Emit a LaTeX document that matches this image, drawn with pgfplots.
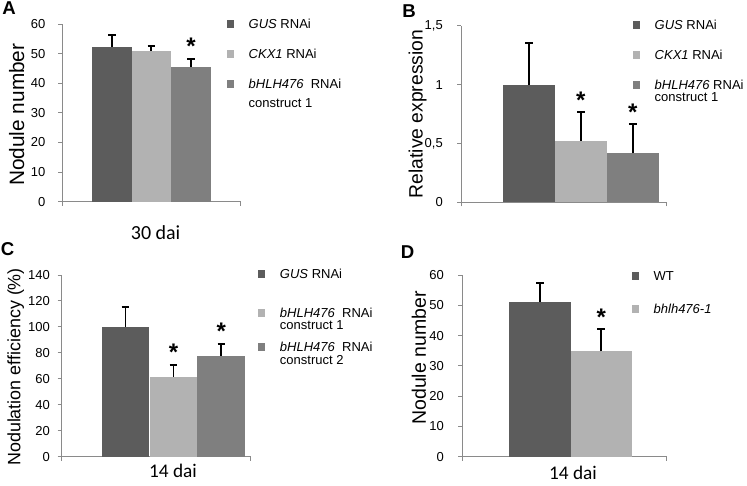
\documentclass[border=0pt]{standalone}
\usepackage{fontspec}
\setmainfont{Liberation Sans}
\newfontfamily\calibri{Carlito}
\usepackage{pgfplots}
\pgfplotsset{compat=1.18}
\definecolor{dk}{HTML}{5C5C5C}
\definecolor{lt}{HTML}{B2B2B2}
\definecolor{md}{HTML}{7F7F7F}
\definecolor{axisc}{HTML}{8A8A8A}

\tikzset{
  sigstar/.style={anchor=base, inner sep=0pt, yshift=-13.8pt,
    font=\fontsize{24}{28}\selectfont\bfseries},
  le/.style={text height=10pt, text depth=#1, inner sep=0pt, outer sep=0pt, anchor=base west},
}
\pgfplotsset{
  panel/.style={
    scale only axis, anchor=south west, clip=false,
    axis x line*=bottom, axis y line*=left,
    axis line style={axisc, line width=1pt},
    tick align=outside, major tick length=4pt,
    tick style={axisc, line width=1pt},
    tick label style={font=\fontsize{13}{15}\selectfont, inner sep=0pt},
    ymin=0, xmin=0, xticklabels={},
    legend style={draw=none, fill=none, inner sep=0pt, outer sep=0pt, anchor=north west,
      row sep=0pt, column sep=14.5pt, font=\fontsize{13}{15.6}\selectfont},
    ylabel style={anchor=center, inner sep=0pt},
    xlabel style={anchor=center, inner sep=0pt},
  },
  bars/.style={ybar, bar shift=0pt, bar width=#1, draw=none,
    legend image code/.code={\fill[##1] (0pt,0.9pt) rectangle (7.5pt,8.4pt);},
    error bars/y dir=plus, error bars/y explicit, error bars/error mark=-,
    error bars/error bar style={draw=black, line width=1.8pt},
    error bars/error mark options={rotate=90, draw=black, line width=1.9pt, mark size=3.8pt}},
}

\begin{document}
\begin{tikzpicture}
\useasboundingbox (0,0) rectangle (747pt,485pt);

% A
\begin{axis}[panel, at={(62.3pt,283.3pt)}, width=178.4pt, height=177.7pt,
  xmax=178.4, ymax=60, ytick={0,10,...,60}, yticklabels={0,10,20,30,40,50,60},
  xtick={0,178.4}, yticklabel style={xshift=-12.7pt},
  ylabel={Nodule number},
  ylabel style={at={(axis description cs:-0.256,0.49)}, font=\fontsize{20.8}{24}\selectfont},
  xlabel={30 dai},
  xlabel style={at={(axis description cs:0.523,-0.173)}, font=\calibri\fontsize{20}{24}\selectfont},
  legend style={at={(0.9215,1.0298)}},
]
\addplot[bars=39.3, fill=dk] coordinates {(49.7,52.3) +- (0,4.1)};
\addlegendentry[le=20pt]{\textit{GUS} RNAi}
\addplot[bars=39.3, fill=lt] coordinates {(89.0,50.9) +- (0,1.7)};
\addlegendentry[le=20pt]{\textit{CKX1} RNAi}
\addplot[bars=39.3, fill=md] coordinates {(128.7,45.4) +- (0,2.8)};
\addlegendentry[le=20pt]{{\begin{tabular}[t]{@{}l@{}}\textit{bHLH476}\ \ RNAi\\[3.4pt]construct 1\end{tabular}}}
\node[sigstar] at (axis cs:128.7,54.3) {*};
\end{axis}

% B
\begin{axis}[panel, at={(461pt,282.7pt)}, width=205.7pt, height=176.6pt,
  xmax=205.7, ymax=1.5, ytick={0,0.5,1,1.5}, yticklabels={0,{0,5},1,{1,5}},
  xtick={0,205.7}, yticklabel style={xshift=-14pt},
  ylabel={Relative expression},
  ylabel style={at={(axis description cs:-0.211,0.5)}, font=\fontsize{19.3}{22}\selectfont},
  legend style={at={(0.8347,1.034)}},
]
\addplot[bars=52, fill=dk] coordinates {(67.9,1.00) +- (0,0.35)};
\addlegendentry[le=20pt]{\textit{GUS} RNAi}
\addplot[bars=52, fill=lt] coordinates {(119.9,0.523) +- (0,0.247)};
\addlegendentry[le=20pt]{\textit{CKX1} RNAi}
\addplot[bars=52, fill=md] coordinates {(171.7,0.416) +- (0,0.252)};
\addlegendentry[le=20pt]{{\begin{tabular}[t]{@{}l@{}}\textit{bHLH476} RNAi\\[-3.6pt]construct 1\end{tabular}}}
\node[sigstar] at (axis cs:119.9,0.912) {*};
\node[sigstar] at (axis cs:171.7,0.81) {*};
\end{axis}

% C
\begin{axis}[panel, at={(61.7pt,28.3pt)}, width=189pt, height=181.7pt,
  xmax=189, ymax=140, ytick={0,20,...,140}, yticklabels={0,20,40,60,80,100,120,140},
  xtick={0,189}, yticklabel style={xshift=-7.7pt},
  ylabel={Nodulation efficiency (\%)},
  ylabel style={at={(axis description cs:-0.243,0.494)}, font=\fontsize{17.9}{21}\selectfont},
  xlabel={14 dai},
  xlabel style={at={(axis description cs:0.589,-0.076)}, font=\calibri\fontsize{19.3}{23}\selectfont},
  legend style={at={(1.0386,1.0347)}},
]
\addplot[bars=47.8, fill=dk] coordinates {(63.8,100.2) +- (0,15.4)};
\addlegendentry[le=29pt]{\textit{GUS} RNAi}
\addplot[bars=47.8, fill=lt] coordinates {(111.8,61.6) +- (0,9.1)};
\addlegendentry[le=24pt]{{\begin{tabular}[t]{@{}l@{}}\textit{bHLH476}\ \ RNAi\\[-3.6pt]construct 1\end{tabular}}}
\addplot[bars=47.8, fill=md] coordinates {(159.6,77.8) +- (0,9.0)};
\addlegendentry[le=20pt]{{\begin{tabular}[t]{@{}l@{}}\textit{bHLH476}\ \ RNAi\\[-2.6pt]construct 2\end{tabular}}}
\node[sigstar] at (axis cs:111.8,84.6) {*};
\node[sigstar] at (axis cs:159.6,100.8) {*};
\end{axis}

% D
\begin{axis}[panel, at={(462pt,28.3pt)}, width=204.7pt, height=181.7pt,
  xmax=204.7, ymax=60, ytick={0,10,...,60}, yticklabels={0,10,20,30,40,50,60},
  xtick={0,204.7}, yticklabel style={xshift=-14pt},
  ylabel={Nodule number},
  ylabel style={at={(axis description cs:-0.21,0.543)}, font=\fontsize{19.5}{22}\selectfont},
  xlabel={14 dai},
  xlabel style={at={(axis description cs:0.542,-0.09)}, font=\calibri\fontsize{19.3}{23}\selectfont},
  legend style={at={(0.829,1.0237)}},
]
\addplot[bars=61.3, fill=dk] coordinates {(78,51.1) +- (0,6.2)};
\addlegendentry[le=23pt]{WT}
\addplot[bars=61.3, fill=lt] coordinates {(139.2,34.8) +- (0,7.4)};
\addlegendentry[le=5pt]{\textit{bhlh476-1}}
\node[sigstar] at (axis cs:139.2,47.8) {*};
\end{axis}

\node[inner sep=0pt, font=\fontsize{18.6}{20}\selectfont\bfseries] at (9.2pt,476.7pt) {A};
\node[inner sep=0pt, font=\fontsize{18.6}{20}\selectfont\bfseries] at (409pt,474.2pt) {B};
\node[inner sep=0pt, font=\fontsize{18.6}{20}\selectfont\bfseries] at (7.5pt,236pt) {C};
\node[inner sep=0pt, font=\fontsize{18.6}{20}\selectfont\bfseries] at (407.5pt,233.3pt) {D};
\end{tikzpicture}
\end{document}
